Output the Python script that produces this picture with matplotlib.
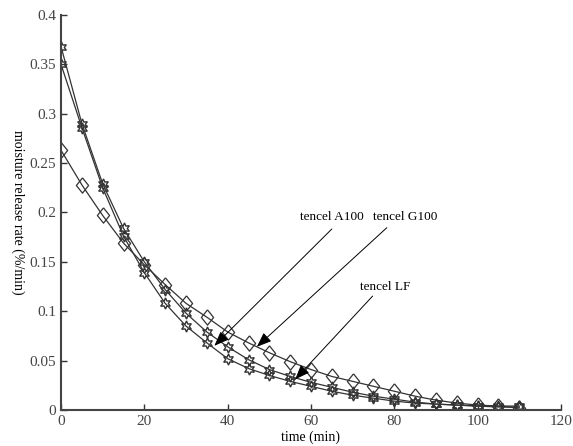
import matplotlib
matplotlib.use("Agg")
import matplotlib.pyplot as plt

time = [0, 5, 10, 15, 20, 25, 30, 35, 40, 45, 50, 55, 60, 65, 70, 75, 80, 85, 90, 95, 100, 105, 110]
tencel_G100 = [0.263, 0.228, 0.197, 0.169, 0.147, 0.127, 0.108, 0.094, 0.079, 0.068, 0.058, 0.049, 0.041,
               0.034, 0.029, 0.024, 0.019, 0.014, 0.010, 0.007, 0.005, 0.004, 0.002]
tencel_LF = [0.368, 0.290, 0.229, 0.184, 0.150, 0.122, 0.098, 0.079, 0.064, 0.051, 0.041, 0.034, 0.028,
             0.023, 0.018, 0.014, 0.011, 0.008, 0.006, 0.005, 0.004, 0.004, 0.004]
tencel_A100 = [0.350, 0.286, 0.225, 0.176, 0.139, 0.108, 0.085, 0.068, 0.052, 0.042, 0.035, 0.029, 0.024,
               0.019, 0.015, 0.012, 0.009, 0.007, 0.006, 0.005, 0.004, 0.003, 0.003]
xticks = [0, 20, 40, 60, 80, 100, 120]
yticks = [0, 0.05, 0.1, 0.15, 0.2, 0.25, 0.3, 0.35, 0.4]
ytick_labels = ["0", "0.05", "0.1", "0.15", "0.2", "0.25", "0.3", "0.35", "0.4"]

plt.rcParams['font.family'] = ['Liberation Serif', 'DejaVu Serif']

fig = plt.figure(figsize=(5.73, 4.46), dpi=100)
ax = fig.add_axes([0.1065, 0.0807, 0.8725, 0.8857])

col = '#333333'
hexa = (6, 1, 0)
diam = [(0, 1), (0.8, 0), (0, -1), (-0.8, 0), (0, 1)]
ax.plot(time, tencel_G100, color=col, lw=0.9, marker=diam, ms=11, mfc='none', mec=col, mew=0.9)
ax.plot(time, tencel_LF, color=col, lw=0.9, marker=hexa, ms=8, mfc='none', mec=col, mew=1.0)
ax.plot(time, tencel_A100, color=col, lw=0.9, marker=hexa, ms=8, mfc='none', mec=col, mew=1.0)

ax.set_xlim(0, 120)
ax.set_ylim(0, 0.4)
ax.set_xticks(xticks)
ax.set_yticks(yticks)
ax.set_yticklabels(ytick_labels)
ax.tick_params(direction='in', length=4, width=1, colors=col, labelsize=11, labelcolor='#444444')
for s in ['top', 'right']:
    ax.spines[s].set_visible(False)
for s in ['left', 'bottom']:
    ax.spines[s].set_linewidth(1.5)
    ax.spines[s].set_color('#444444')

ax.set_xlabel("time (min)", fontsize=10, labelpad=2)
ax.set_ylabel("moisture release rate (%/min)", fontsize=10, rotation=270, ha='center', va='center')
ax.yaxis.set_label_coords(-0.086, 0.5)

arrow = dict(arrowstyle='-|>,head_length=0.9,head_width=0.35', color='black', lw=0.7, shrinkA=0, shrinkB=0)
ax.text(65.0, 0.195, "tencel A100", fontsize=9.5, ha='center', va='center')
ax.text(82.5, 0.195, "tencel G100", fontsize=9.5, ha='center', va='center')
ax.text(77.8, 0.1246, "tencel LF", fontsize=9.5, ha='center', va='center')
ax.annotate("", xy=(36.8, 0.065), xytext=(65.0, 0.1833), arrowprops=arrow)
ax.annotate("", xy=(47.0, 0.064), xytext=(78.2, 0.1846), arrowprops=arrow)
ax.annotate("", xy=(56.2, 0.031), xytext=(74.8, 0.1154), arrowprops=arrow)

fig.savefig("out.png", dpi=100)
